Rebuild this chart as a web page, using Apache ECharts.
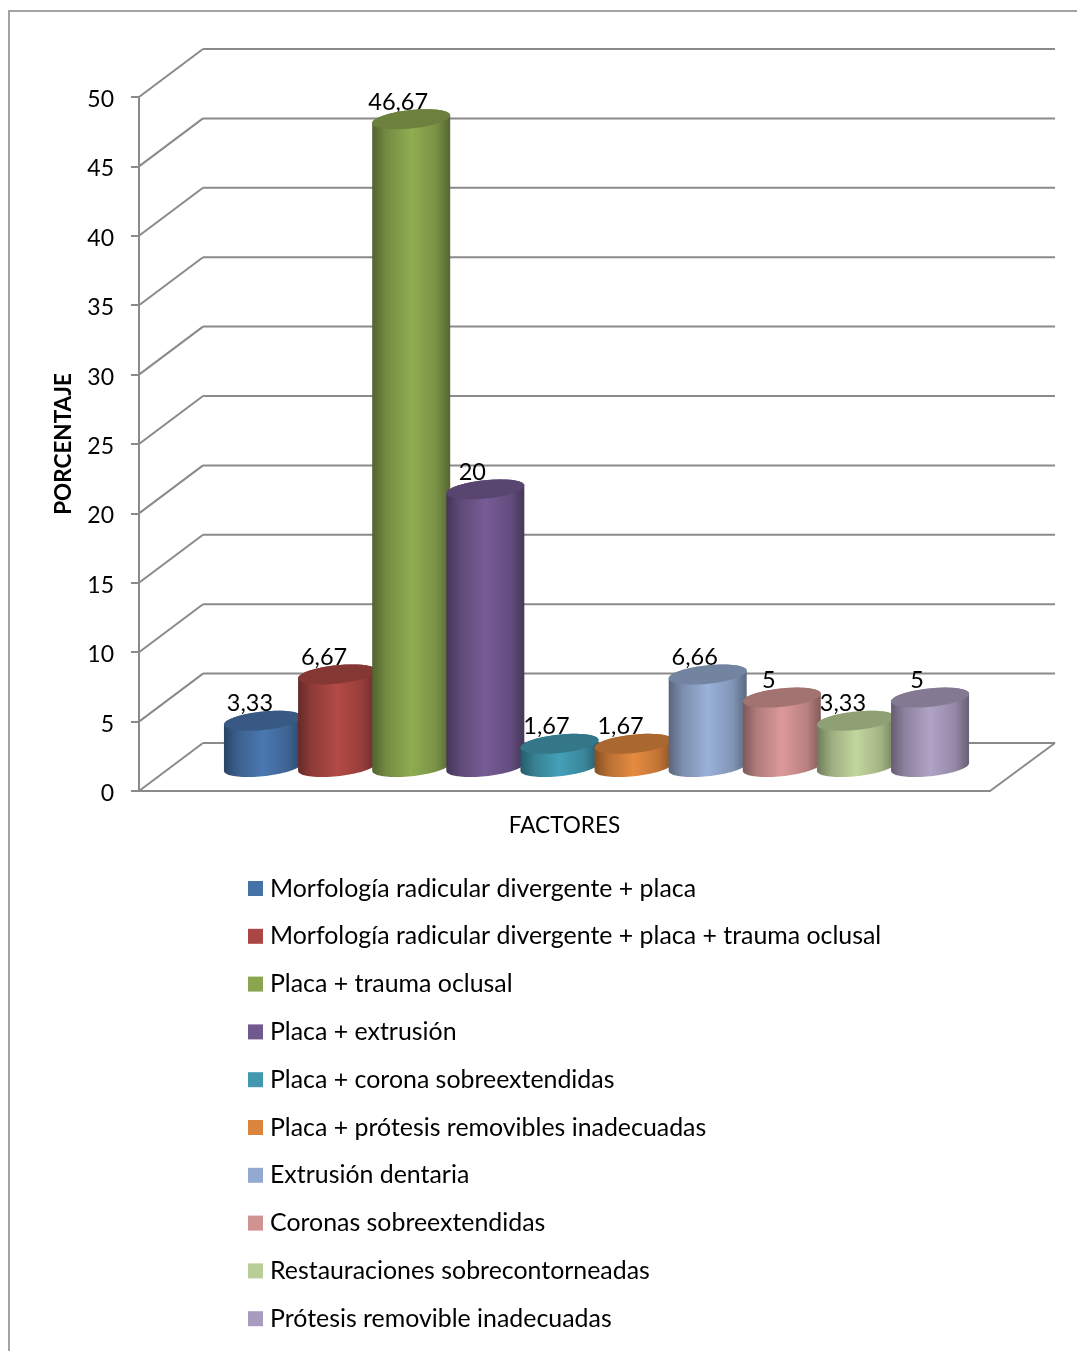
<!DOCTYPE html>
<html lang="es">
<head>
<meta charset="utf-8">
<title>Factores</title>
<style>
html,body{margin:0;padding:0;background:#fff}
#chart{width:1077px;height:1351px}
</style>
<script src="https://cdn.jsdelivr.net/npm/echarts@6/dist/echarts.min.js"></script>
</head>
<body>
<div id="chart"></div>
<script>
const factorNames = [
  'Morfología radicular divergente + placa',
  'Morfología radicular divergente + placa + trauma oclusal',
  'Placa + trauma oclusal',
  'Placa + extrusión',
  'Placa + corona sobreextendidas',
  'Placa + prótesis removibles inadecuadas',
  'Extrusión dentaria',
  'Coronas sobreextendidas',
  'Restauraciones sobrecontorneadas',
  'Prótesis removible inadecuadas'
];
const percentages = [3.33, 6.67, 46.67, 20, 1.67, 1.67, 6.66, 5, 3.33, 5];
const factorColors = ['#4672a8', '#aa4643', '#89a54e', '#71588f', '#4198af',
                      '#db843d', '#93a9cf', '#d19392', '#b9cd96', '#a99bbd'];
const categories = ['FACTORES'];
const tickValues = [0, 5, 10, 15, 20, 25, 30, 35, 40, 45, 50];

const FONT = 'Lato, "Open Sans", sans-serif';
const GRID_COLOR = '#8a8a8a';
const DEPTH_X = 64;      // horizontal shift of the back wall
const DEPTH_Y = 48;      // vertical shift of the back wall
const SLOT = 0.0871;     // cylinder spacing as a share of the band
const TILT = -6 * Math.PI / 180;
const RX = 39.2, RY = 9.2;

function shade(hex, k) {
  const n = parseInt(hex.slice(1), 16);
  const ch = s => Math.max(0, Math.min(255, Math.round(((n >> s) & 255) * k)));
  return 'rgb(' + ch(16) + ',' + ch(8) + ',' + ch(0) + ')';
}

// Point on the tilted elliptical cross-section of a cylinder
function rim(cx, cy, t) {
  const c = Math.cos(t), s = Math.sin(t);
  return [
    cx + RX * c * Math.cos(TILT) - RY * s * Math.sin(TILT),
    cy + RX * c * Math.sin(TILT) + RY * s * Math.cos(TILT)
  ];
}

function cylinderRenderer(index) {
  return function (params, api) {
    const value = api.value(1);
    const base = api.coord([0, 0]);
    const head = api.coord([0, value]);
    const band = api.size([1, 0])[0];
    const cx = base[0] + (index - 4.5) * band * SLOT + DEPTH_X / 2;
    const baseY = base[1] - DEPTH_Y / 2;
    const topY = head[1] - DEPTH_Y / 2;
    const color = factorColors[index];

    // Parameter of the silhouette tangents on the tilted ellipse
    const tRight = Math.atan2(-RY * Math.sin(TILT), RX * Math.cos(TILT));
    const body = [];
    const steps = 40;
    for (let k = 0; k <= steps; k++) {
      body.push(rim(cx, baseY, tRight + Math.PI * k / steps));
    }
    for (let k = 0; k <= steps; k++) {
      body.push(rim(cx, topY, tRight + Math.PI + Math.PI * k / steps));
    }
    const cap = [];
    for (let k = 0; k < 80; k++) {
      cap.push(rim(cx, topY, 2 * Math.PI * k / 80));
    }

    return {
      type: 'group',
      silent: true,
      children: [
        {
          type: 'polygon',
          z2: 10 + index * 2,
          shape: { points: body },
          style: {
            fill: {
              type: 'linear', x: 0, y: 0, x2: 1, y2: 0,
              colorStops: [
                { offset: 0, color: shade(color, 0.6) },
                { offset: 0.18, color: shade(color, 0.84) },
                { offset: 0.5, color: shade(color, 1.05) },
                { offset: 0.82, color: shade(color, 0.88) },
                { offset: 1, color: shade(color, 0.62) }
              ]
            }
          }
        },
        {
          type: 'polygon',
          z2: 11 + index * 2,
          shape: { points: cap },
          style: { fill: shade(color, 0.78) }
        },
        {
          type: 'text',
          z2: 1,
          style: {
            text: String(value).replace('.', ','),
            x: cx - 13,
            y: topY - 17,
            fill: '#000',
            font: '23.5px ' + FONT,
            textAlign: 'center',
            textVerticalAlign: 'middle'
          }
        }
      ]
    };
  };
}

// Back wall, side wall and floor lines of the three-dimensional box
function wallRenderer(params, api) {
  const tick = api.value(0);
  const p = api.coord([0, tick]);
  const grid = params.coordSys;
  const left = grid.x, right = grid.x + grid.width;
  const children = [
    { type: 'line', shape: { x1: left, y1: p[1], x2: left + DEPTH_X, y2: p[1] - DEPTH_Y } },
    { type: 'line', shape: { x1: left + DEPTH_X, y1: p[1] - DEPTH_Y, x2: right + 65, y2: p[1] - DEPTH_Y } }
  ];
  if (tick === 0) {
    children.push({ type: 'line', shape: { x1: right, y1: p[1], x2: right + 65, y2: p[1] - DEPTH_Y } });
  }
  children.forEach(c => { c.style = { stroke: GRID_COLOR, lineWidth: 2, fill: null }; });
  return { type: 'group', silent: true, children };
}

const chart = echarts.init(document.getElementById('chart'), null, { renderer: 'canvas' });

chart.setOption({
  animation: false,
  backgroundColor: '#fff',
  graphic: [{
    type: 'rect',
    silent: true,
    z: -1,
    shape: { x: 9, y: 11, width: 1200, height: 1500 },
    style: { fill: '#fff', stroke: '#a3a3a3', lineWidth: 2 }
  }],
  grid: { left: 139, top: 97, width: 851, height: 694 },
  xAxis: {
    type: 'category',
    data: categories,
    axisLine: { lineStyle: { color: GRID_COLOR, width: 2 } },
    axisTick: { length: 8, lineStyle: { color: GRID_COLOR, width: 2 } },
    axisLabel: { color: '#000', fontFamily: FONT, fontSize: 22.6, margin: 23 }
  },
  yAxis: {
    type: 'value',
    min: 0,
    max: 50,
    interval: 5,
    name: 'PORCENTAJE',
    nameLocation: 'middle',
    nameGap: 64,
    nameRotate: 90,
    nameTextStyle: { color: '#000', fontFamily: FONT, fontSize: 22.5, fontWeight: 'bold' },
    axisLine: { show: true, lineStyle: { color: GRID_COLOR, width: 2 } },
    axisTick: { show: true, length: 8, lineStyle: { color: GRID_COLOR, width: 2 } },
    axisLabel: {
      margin: 25,
      formatter: '{tick|{value}}',
      rich: { tick: { color: '#000', fontFamily: FONT, fontSize: 23, padding: [5, 0, 0, 0] } }
    },
    splitLine: { show: false }
  },
  legend: {
    orient: 'vertical',
    left: 243,
    top: 871,
    data: factorNames,
    selectedMode: false,
    icon: 'rect',
    itemWidth: 15,
    itemHeight: 15,
    itemGap: 22.8,
    textStyle: { color: '#000', fontFamily: FONT, fontSize: 24.9, lineHeight: 24, padding: [0, 0, 0, 2] }
  },
  series: [
    {
      type: 'custom',
      name: 'paredes',
      renderItem: wallRenderer,
      coordinateSystem: 'cartesian2d',
      data: tickValues.map(t => [t]),
      encode: { y: 0 },
      silent: true,
      clip: false,
      z: 1
    }
  ].concat(factorNames.map((name, i) => ({
    type: 'custom',
    name,
    coordinateSystem: 'cartesian2d',
    renderItem: cylinderRenderer(i),
    itemStyle: { color: factorColors[i] },
    data: [[0, percentages[i]]],
    encode: { x: 0, y: 1 },
    silent: true,
    clip: false,
    z: 2
  })))
});
</script>
</body>
</html>
